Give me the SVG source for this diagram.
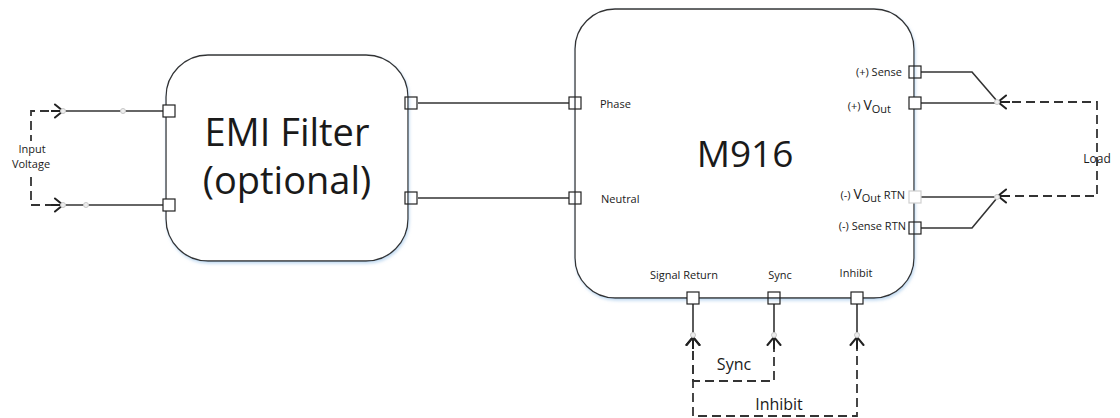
<svg xmlns="http://www.w3.org/2000/svg" width="1120" height="418" viewBox="0 0 1120 418">
<style>
  text { font-family: "Open Sans", "Liberation Sans", sans-serif; fill: #1a1a1a; }
  .box { fill: #fff; stroke: #333; stroke-width: 1.3; filter: url(#sh); }
  .port { fill: #fff; stroke: #222; stroke-width: 1.2; }
  .porto { fill: none; stroke: #222; stroke-width: 1.2; }
  .portg { fill: #fff; stroke: #d0d0d0; stroke-width: 1.2; }
  .wire { fill: none; stroke: #333; stroke-width: 1.6; }
  .dash { fill: none; stroke: #333; stroke-width: 1.8; stroke-dasharray: 9 5; marker-start: url(#arr); marker-end: url(#arr); }
  .dot { fill: #eee; stroke: #c8c8c8; stroke-width: 1; }
  .lbl { font-size: 11px; }
  .big { font-size: 14px; }
  .head { fill: none; stroke: #222; stroke-width: 2; stroke-dasharray: none; stroke-linecap: round; }
</style>
<defs>
  <filter id="sh" x="-5%" y="-5%" width="110%" height="115%">
    <feDropShadow dx="1" dy="2" stdDeviation="1.5" flood-color="#9ec5e8" flood-opacity="0.6"/>
  </filter>
  <marker id="arr" markerUnits="userSpaceOnUse" markerWidth="16" markerHeight="18" refX="12" refY="9" orient="auto-start-reverse" viewBox="0 0 16 18">
    <path class="head" d="M4,2.5 L12,9 L4,15.5 M0,9 H12"/>
  </marker>
</defs>

<g id="connectors">
  <!-- input -->
  <path class="wire" d="M163,111 H63"/>
  <path class="wire" d="M163,205 H63"/>
  <path class="dash" d="M63,111 H31 V205 H63"/>
  <circle class="dot" cx="63" cy="111" r="2.5"/>
  <circle class="dot" cx="123" cy="111" r="2.5"/>
  <circle class="dot" cx="63" cy="205" r="2.5"/>
  <circle class="dot" cx="86" cy="205" r="2.5"/>
  <!-- EMI to M916 -->
  <path class="wire" d="M418,103 H569"/>
  <path class="wire" d="M418,198 H569"/>
  <!-- outputs -->
  <path class="wire" d="M921,72 H972 L997,101"/>
  <path class="wire" d="M921,103 H997"/>
  <path class="wire" d="M921,197 H997"/>
  <path class="wire" d="M921,228 H972 L997,198"/>
  <path class="dash" d="M998,102 H1097 V196 H998"/>
  <circle class="dot" cx="997" cy="102" r="2.5"/>
  <circle class="dot" cx="997" cy="197" r="2.5"/>
  <!-- bottom -->
  <path class="wire" d="M693,304 V336"/>
  <path class="wire" d="M774,304 V336"/>
  <path class="wire" d="M857,304 V336"/>
  <path class="dash" d="M693,337 V381 H774 V337"/>
  <path class="dash" d="M693,337 V416 H857 V337"/>
  <circle class="dot" cx="693" cy="335" r="2.5"/>
  <circle class="dot" cx="774" cy="335" r="2.5"/>
  <circle class="dot" cx="857" cy="335" r="2.5"/>
</g>

<g id="input-label">
  <rect x="8" y="141" width="48" height="31" fill="#fff"/>
  <text class="lbl" x="32" y="153" text-anchor="middle">Input</text>
  <text class="lbl" x="31" y="168" text-anchor="middle">Voltage</text>
</g>

<g id="emi-filter">
  <rect class="box" x="166" y="55" width="242" height="206" rx="42" ry="42"/>
  <rect class="port" x="163" y="105" width="12" height="12"/>
  <rect class="port" x="163" y="199" width="12" height="12"/>
  <rect class="porto" x="405" y="97" width="12" height="12"/>
  <rect class="porto" x="405" y="192" width="12" height="12"/>
  <text x="287" y="146" font-size="38" text-anchor="middle">EMI Filter</text>
  <text x="287" y="194" font-size="38" text-anchor="middle">(optional)</text>
</g>

<g id="m916">
  <rect class="box" x="575" y="9" width="339" height="289" rx="40" ry="40"/>
  <rect class="porto" x="569" y="97" width="12" height="12"/>
  <rect class="porto" x="569" y="192" width="12" height="12"/>
  <rect class="porto" x="909" y="66" width="12" height="12"/>
  <rect class="port" x="909" y="97" width="12" height="12"/>
  <rect class="portg" x="909" y="191" width="12" height="12"/>
  <rect class="porto" x="909" y="222" width="12" height="12"/>
  <rect class="port" x="687" y="292" width="12" height="12"/>
  <rect class="porto" x="768" y="292" width="12" height="12"/>
  <rect class="port" x="851" y="292" width="12" height="12"/>
  <text x="745" y="167" font-size="37" text-anchor="middle">M916</text>
  <text class="lbl" x="600" y="108">Phase</text>
  <text class="lbl" x="601" y="203">Neutral</text>
  <text class="lbl" x="902" y="76" text-anchor="end">(+) Sense</text>
  <text class="lbl" x="891" y="110" text-anchor="end">(+) <tspan class="big">V</tspan><tspan dy="3">Out</tspan></text>
  <text class="lbl" x="905" y="199" text-anchor="end">(-) <tspan class="big">V</tspan><tspan dy="3">Out</tspan><tspan dy="-3"> RTN</tspan></text>
  <text class="lbl" x="906" y="230" text-anchor="end">(-) Sense RTN</text>
  <text class="lbl" x="684" y="279" text-anchor="middle">Signal Return</text>
  <text class="lbl" x="780" y="279" text-anchor="middle">Sync</text>
  <text class="lbl" x="856" y="277" text-anchor="middle">Inhibit</text>
</g>

<g id="load-label">
  <text x="1097" y="163" font-size="12" text-anchor="middle">Load</text>
</g>
<g id="bottom-labels">
  <text x="734" y="370" font-size="16" text-anchor="middle">Sync</text>
  <text x="779" y="410" font-size="16" text-anchor="middle">Inhibit</text>
</g>
</svg>
